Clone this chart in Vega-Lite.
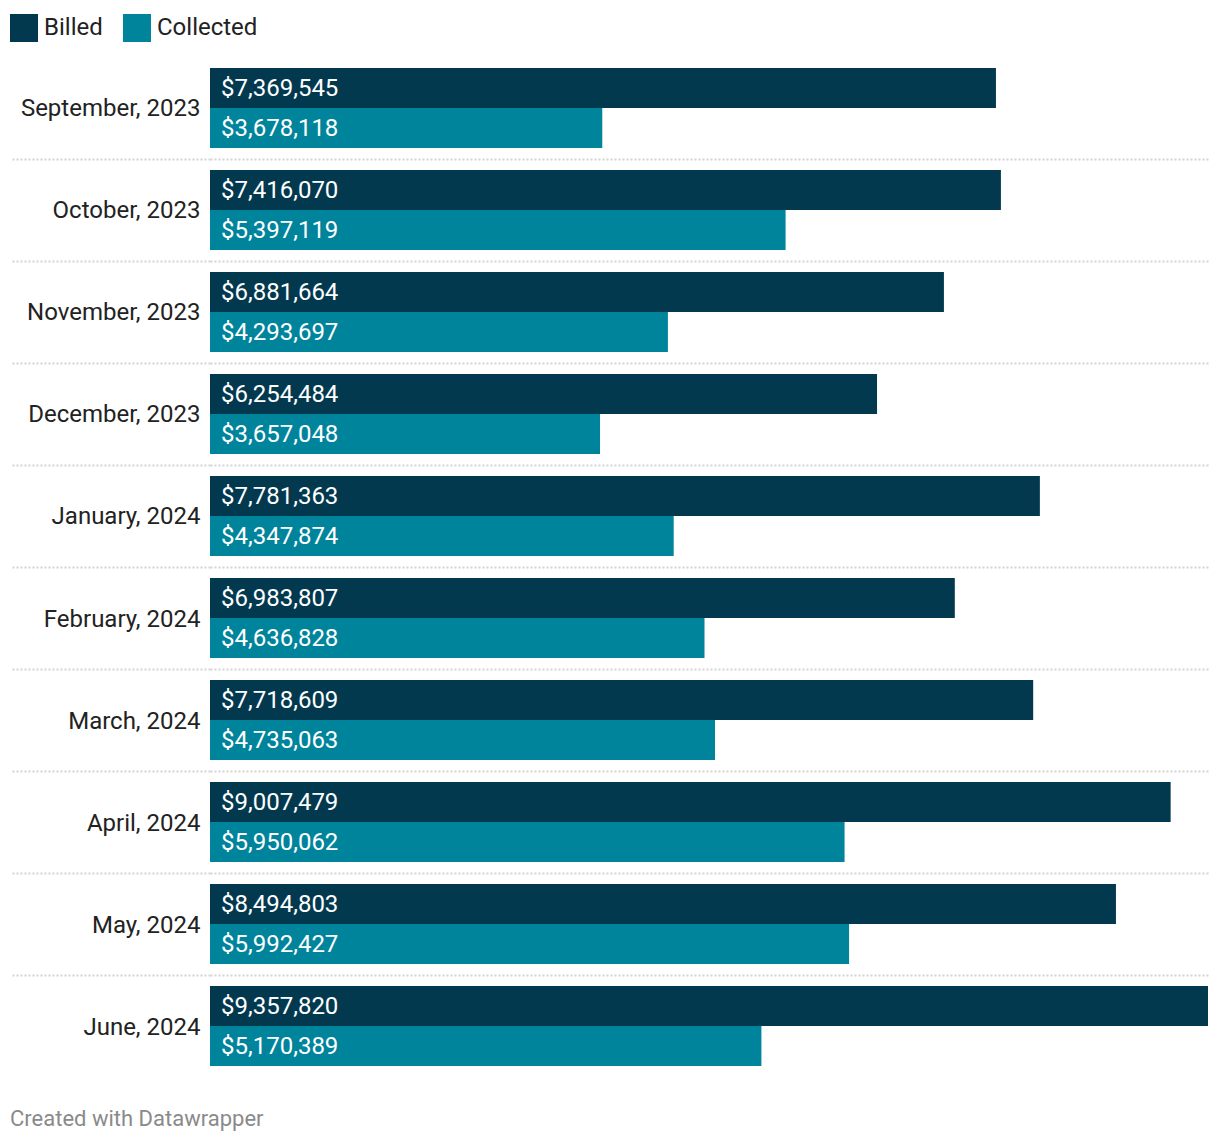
{
  "$schema": "https://vega.github.io/schema/vega-lite/v6.json",
  "width": 998,
  "height": 1020,
  "autosize": {"type": "none"},
  "padding": {"left": 210, "top": 57, "right": 12, "bottom": 67},
  "background": "white",
  "config": {
    "font": "Roboto",
    "view": {"stroke": null}
  },
  "title": {
    "text": "Created with Datawrapper",
    "orient": "bottom",
    "anchor": "start",
    "frame": "group",
    "dx": -200,
    "offset": 31,
    "fontSize": 22,
    "fontWeight": "normal",
    "color": "#8a8a8a",
    "font": "Roboto"
  },
  "data": {
    "values": [
      {"month": "September, 2023", "series": "Billed", "value": 7369545},
      {"month": "September, 2023", "series": "Collected", "value": 3678118},
      {"month": "October, 2023", "series": "Billed", "value": 7416070},
      {"month": "October, 2023", "series": "Collected", "value": 5397119},
      {"month": "November, 2023", "series": "Billed", "value": 6881664},
      {"month": "November, 2023", "series": "Collected", "value": 4293697},
      {"month": "December, 2023", "series": "Billed", "value": 6254484},
      {"month": "December, 2023", "series": "Collected", "value": 3657048},
      {"month": "January, 2024", "series": "Billed", "value": 7781363},
      {"month": "January, 2024", "series": "Collected", "value": 4347874},
      {"month": "February, 2024", "series": "Billed", "value": 6983807},
      {"month": "February, 2024", "series": "Collected", "value": 4636828},
      {"month": "March, 2024", "series": "Billed", "value": 7718609},
      {"month": "March, 2024", "series": "Collected", "value": 4735063},
      {"month": "April, 2024", "series": "Billed", "value": 9007479},
      {"month": "April, 2024", "series": "Collected", "value": 5950062},
      {"month": "May, 2024", "series": "Billed", "value": 8494803},
      {"month": "May, 2024", "series": "Collected", "value": 5992427},
      {"month": "June, 2024", "series": "Billed", "value": 9357820},
      {"month": "June, 2024", "series": "Collected", "value": 5170389}
    ]
  },
  "encoding": {
    "y": {
      "field": "month",
      "type": "nominal",
      "sort": null,
      "scale": {"paddingInner": 0.2157, "paddingOuter": 0.1078},
      "axis": {
        "title": null,
        "domain": false,
        "ticks": true,
        "tickSize": 198,
        "tickWidth": 2,
        "tickDash": [2, 2],
        "tickColor": {"condition": {"test": "datum.value === 'June, 2024'", "value": "transparent"}, "value": "#d3d3d3"},
        "grid": true,
        "gridWidth": 2,
        "gridDash": [2, 2],
        "gridColor": {"condition": {"test": "datum.value === 'June, 2024'", "value": "transparent"}, "value": "#d3d3d3"},
        "bandPosition": 1,
        "tickOffset": 11,
        "labelOffset": -10,
        "labelPadding": -188,
        "labelFontSize": 24,
        "labelColor": "#222222",
        "labelFont": "Roboto"
      }
    },
    "yOffset": {
      "field": "series",
      "type": "nominal",
      "sort": ["Billed", "Collected"],
      "scale": {"paddingInner": 0, "paddingOuter": 0}
    }
  },
  "layer": [
    {
      "mark": {"type": "bar"},
      "encoding": {
        "x": {
          "field": "value",
          "type": "quantitative",
          "scale": {"domain": [0, 9357820], "nice": false, "zero": true},
          "axis": null
        },
        "color": {
          "field": "series",
          "type": "nominal",
          "scale": {"domain": ["Billed", "Collected"], "range": ["#02394f", "#00849c"]},
          "legend": {
            "title": null,
            "orient": "none",
            "legendX": -200,
            "legendY": -43,
            "direction": "horizontal",
            "symbolType": "square",
            "symbolSize": 784,
            "symbolStrokeWidth": 0,
            "symbolOpacity": 1,
            "labelFontSize": 24,
            "labelColor": "#222222",
            "labelFont": "Roboto",
            "labelOffset": 6,
            "columnPadding": 20,
            "padding": 0
          }
        }
      }
    },
    {
      "mark": {"type": "text", "align": "left", "baseline": "middle", "dx": 11, "dy": 1, "fontSize": 24, "color": "white", "font": "Roboto"},
      "encoding": {
        "x": {"datum": 0, "type": "quantitative"},
        "text": {"field": "value", "type": "quantitative", "format": "$,.0f"}
      }
    }
  ]
}
